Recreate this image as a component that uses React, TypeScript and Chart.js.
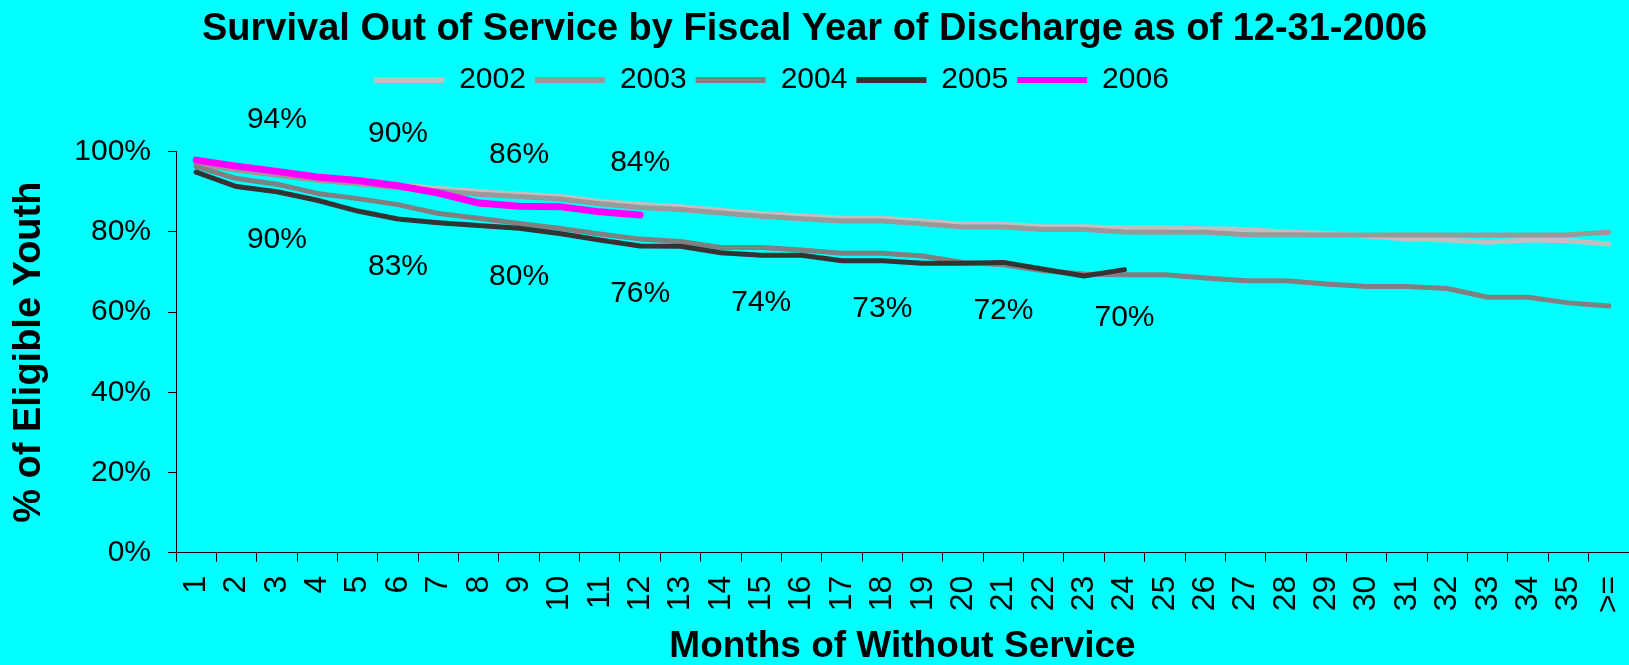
import React, { useEffect, useRef } from 'react';
import { Chart, registerables } from 'chart.js';

Chart.register(...registerables);

const FONT = "'Liberation Sans', Arial, sans-serif";

const months = ['1', '2', '3', '4', '5', '6', '7', '8', '9', '10', '11', '12', '13', '14', '15', '16', '17', '18', '19', '20', '21', '22', '23', '24', '25', '26', '27', '28', '29', '30', '31', '32', '33', '34', '35', '>='];

const fy2002 = [97.6, 96.2, 94.9, 93.7, 92.7, 91.7, 90.9, 90.1, 89.4, 88.9, 87.6, 86.9, 86.3, 85.4, 84.6, 84.0, 83.4, 83.4, 82.7, 81.9, 81.9, 81.3, 81.3, 81.0, 81.0, 80.8, 80.6, 80.0, 79.6, 79.0, 78.2, 78.0, 77.4, 78.0, 77.8, 77.0];
const fy2003 = [96.9, 95.4, 94.1, 92.9, 92.0, 91.0, 90.2, 89.4, 88.8, 88.2, 87.0, 86.1, 85.6, 84.7, 83.9, 83.3, 82.7, 82.7, 82.0, 81.2, 81.2, 80.6, 80.6, 80.0, 79.9, 79.9, 79.3, 79.3, 79.2, 79.2, 79.2, 79.2, 79.2, 79.2, 79.3, 79.9];
const fy2004 = [96.3, 93.3, 91.9, 89.6, 88.3, 86.8, 84.6, 83.4, 82.1, 80.9, 79.5, 78.2, 77.6, 76.1, 76.1, 75.5, 74.7, 74.7, 74.0, 72.4, 71.8, 70.3, 69.5, 69.3, 69.3, 68.5, 67.8, 67.8, 67.0, 66.4, 66.4, 65.9, 63.7, 63.7, 62.3, 61.5];
const fy2005 = [94.9, 91.3, 90.0, 87.9, 85.2, 83.2, 82.3, 81.6, 80.9, 79.6, 78.0, 76.5, 76.4, 74.8, 74.2, 74.2, 72.8, 72.8, 72.2, 72.2, 72.4, 70.7, 69.0, 70.6];
const fy2006 = [97.9, 96.4, 95.1, 93.7, 92.8, 91.5, 89.7, 87.2, 86.4, 86.3, 85.0, 84.2];

const seriesNames = ['2002', '2003', '2004', '2005', '2006'];

const labelMonths2006 = [3, 6, 9, 12];
const labelText2006 = ['94%', '90%', '86%', '84%'];
const labelMonths2005 = [3, 6, 9, 12, 15, 18, 21, 24];
const labelText2005 = ['90%', '83%', '80%', '76%', '74%', '73%', '72%', '70%'];

const mk = (label: string, data: number[], color: string, width: number, order: number) => ({
  label,
  data,
  borderColor: color,
  backgroundColor: color,
  borderWidth: width,
  pointRadius: 0,
  pointHoverRadius: 0,
  tension: 0,
  fill: false,
  borderCapStyle: 'round',
  borderJoinStyle: 'round',
  order,
});

const pctLabels = {
  id: 'pctLabels',
  afterDatasetsDraw(chart: any) {
    const ctx = chart.ctx;
    ctx.save();
    ctx.font = `30px ${FONT}`;
    ctx.fillStyle = '#000';
    ctx.textAlign = 'center';
    ctx.textBaseline = 'middle';
    const draw = (dsIndex: number, ms: number[], texts: string[], dy: number) => {
      const meta = chart.getDatasetMeta(dsIndex);
      ms.forEach((m, k) => {
        const el = meta.data[m - 1];
        if (el) ctx.fillText(texts[k], el.x, el.y + dy);
      });
    };
    draw(4, labelMonths2006, labelText2006, -52);
    draw(3, labelMonths2005, labelText2005, 48);
    ctx.restore();
  },
};

const legendLayout = {
  id: 'legendLayout',
  beforeInit(chart: any) {
    const legend = chart.legend;
    if (!legend) return;
    const fit = legend.fit;
    legend.fit = function () {
      fit.call(this);
      this.height = 95.7;
    };
    const draw = legend.draw;
    legend.draw = function () {
      const l = this.left;
      const r = this.right;
      this.left = l - 43;
      this.right = r - 43;
      draw.call(this);
      this.left = l;
      this.right = r;
    };
  },
};

export default function App() {
  const ref = useRef<HTMLCanvasElement>(null);
  useEffect(() => {
    const chart = new Chart(ref.current as HTMLCanvasElement, {
      type: 'line',
      data: {
        labels: months,
        datasets: [
          mk(seriesNames[0], fy2002, '#C0C0C0', 5, 4),
          mk(seriesNames[1], fy2003, '#999999', 5, 3),
          mk(seriesNames[2], fy2004, '#808080', 5, 2),
          mk(seriesNames[3], fy2005, '#333333', 5, 1),
          mk(seriesNames[4], fy2006, '#FF00FF', 7, 0),
        ] as any,
      },
      options: {
        responsive: false,
        animation: false,
        devicePixelRatio: 1,
        events: [],
        layout: { padding: 0 },
        plugins: {
          title: {
            display: true,
            text: 'Survival Out of Service by Fiscal Year of Discharge as of 12-31-2006',
            color: '#000',
            font: { size: 38, weight: 'bold', family: FONT, lineHeight: 1.2 },
            padding: { top: 7, bottom: 3.4 },
          },
          legend: {
            display: true,
            position: 'top',
            align: 'center',
            labels: {
              boxWidth: 70,
              boxHeight: 6,
              padding: 9,
              color: '#000',
              font: { size: 30, family: FONT },
              sort: (a: any, b: any) => a.datasetIndex - b.datasetIndex,
              generateLabels: (c: any) =>
                (Chart.defaults.plugins.legend.labels.generateLabels as any)(c).map((it: any) => ({
                  ...it,
                  lineWidth: 0,
                  strokeStyle: 'rgba(0,0,0,0)',
                })),
            },
          },
          tooltip: { enabled: false },
        },
        scales: {
          x: {
            offset: true,
            grid: { offset: true, drawOnChartArea: false, drawTicks: true, tickLength: 9, color: '#000', lineWidth: 1 },
            border: { display: true, color: '#000', width: 1 },
            ticks: {
              autoSkip: false,
              maxRotation: 90,
              minRotation: 90,
              padding: 14,
              color: '#000',
              font: { size: 32, family: FONT },
            },
            title: {
              display: true,
              text: 'Months of Without Service',
              color: '#000',
              font: { size: 37, weight: 'bold', family: FONT, lineHeight: 1 },
              padding: { top: 0, bottom: 0 },
            },
            afterFit: (s: any) => {
              s.height = 112.3;
              s.paddingLeft = 0;
              s.paddingRight = 0;
            },
          },
          y: {
            min: 0,
            max: 100,
            grid: { drawOnChartArea: false, drawTicks: true, tickLength: 8, color: '#000', lineWidth: 1 },
            border: { display: true, color: '#000', width: 1 },
            ticks: {
              stepSize: 20,
              padding: 17,
              color: '#000',
              font: { size: 30, family: FONT },
              callback: (v: any) => v + '%',
            },
            title: {
              display: true,
              text: '% of Eligible Youth',
              color: '#000',
              font: { size: 38, weight: 'bold', family: FONT, lineHeight: 1 },
              padding: { top: 11, bottom: 0 },
            },
            afterFit: (s: any) => {
              s.width = 176;
            },
          },
        },
      } as any,
      plugins: [pctLabels, legendLayout] as any,
    });
    return () => chart.destroy();
  }, []);
  return (
    <div style={{ position: 'absolute', left: 0, top: 0, width: 1629, height: 665, background: '#00FFFF' }}>
      <canvas ref={ref} width={1629} height={665} style={{ display: 'block' }} />
    </div>
  );
}
